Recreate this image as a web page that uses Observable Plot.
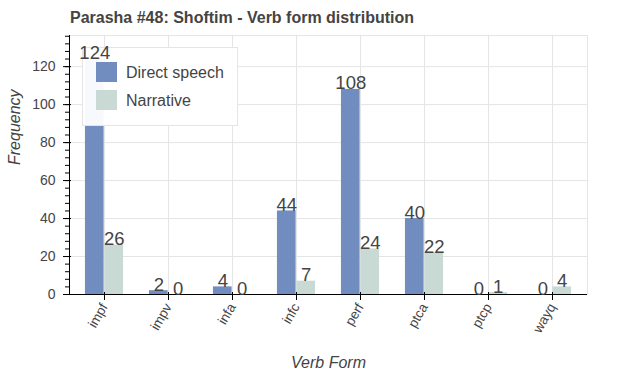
<!DOCTYPE html>
<html>
<head>
<meta charset="utf-8">
<script src="https://cdn.jsdelivr.net/npm/d3@7"></script>
<script src="https://cdn.jsdelivr.net/npm/@observablehq/plot@0.6"></script>
<style>
  html, body { margin: 0; padding: 0; background: #fff; }
  #wrap { width: 625px; height: 375px; position: relative; font-family: "Liberation Sans", Arial, Helvetica, sans-serif; }
  #title { position: absolute; left: 70px; top: 3px; height: 30px; line-height: 30px; font-weight: bold; font-size: 16px; color: #444; white-space: nowrap; }
  #chart { position: absolute; left: 0; top: 30px; }
</style>
</head>
<body>
<div id="wrap">
  <div id="title">Parasha #48: Shoftim - Verb form distribution</div>
  <div id="chart"></div>
</div>
<script>
const verbForms = ["impf", "impv", "infa", "infc", "perf", "ptca", "ptcp", "wayq"];
const directSpeech = [124, 2, 4, 44, 108, 40, 0, 0];
const narrative = [26, 0, 0, 7, 24, 22, 1, 4];
const seriesNames = ["Direct speech", "Narrative"];
const seriesColors = ["#718dbf", "#c9d9d3"];
const yMajorTicks = [0, 20, 40, 60, 80, 100, 120];
const yMinorTicks = d3.range(0, 137, 4);
const xTitle = "Verb Form";
const yTitle = "Frequency";

const rows = verbForms.map((form, i) => ({form, ds: directSpeech[i], nar: narrative[i]}));

const W = 625, H = 345, mL = 69, mR = 38, mT = 5, mB = 81;
const bw = (W - mL - mR) / verbForms.length;
const font = '"Liberation Sans", Arial, Helvetica, sans-serif';

function legendMark(index, scales, values, dims) {
  const g = d3.create("svg:g");
  g.append("rect").attr("x", 82.5).attr("y", 17.5).attr("width", 155).attr("height", 78)
    .attr("fill", "#fff").attr("fill-opacity", 0.95).attr("stroke", "#e5e5e5");
  seriesNames.forEach((name, i) => {
    g.append("rect").attr("x", 96).attr("y", 32 + i * 28).attr("width", 21).attr("height", 20)
      .attr("fill", seriesColors[i]);
    g.append("text").attr("x", 126).attr("y", 47.5 + i * 28).attr("fill", "#444")
      .attr("text-anchor", "start")
      .attr("font-size", 16).attr("font-family", font).text(name);
  });
  return g.node();
}

function axisLines(index, scales, values, dims) {
  const g = d3.create("svg:g").attr("stroke", "#000");
  const {width, height, marginLeft, marginRight, marginTop, marginBottom} = dims;
  g.append("line").attr("x1", marginLeft + 0.5).attr("x2", marginLeft + 0.5)
    .attr("y1", marginTop).attr("y2", height - marginBottom);
  g.append("line").attr("x1", marginLeft).attr("x2", width - marginRight)
    .attr("y1", height - marginBottom + 0.5).attr("y2", height - marginBottom + 0.5);
  return g.node();
}

const chart = Plot.plot({
  width: W, height: H,
  marginLeft: mL, marginRight: mR, marginTop: mT, marginBottom: mB,
  style: {fontFamily: font, color: "#444", background: "#fff", overflow: "visible"},
  x: {domain: verbForms, padding: 0, label: null},
  y: {domain: [0, 136.4], label: null},
  marks: [
    Plot.gridY(yMajorTicks, {stroke: "#e5e5e5", strokeOpacity: 1}),
    Plot.gridX(verbForms, {stroke: "#e5e5e5", strokeOpacity: 1}),
    Plot.frame({stroke: "#e5e5e5"}),
    Plot.barY(rows, {x: "form", y: "ds", fill: seriesColors[0], insetLeft: 0.2 * bw, insetRight: 0.5 * bw}),
    Plot.barY(rows, {x: "form", y: "nar", fill: seriesColors[1], insetLeft: 0.5 * bw, insetRight: 0.2 * bw}),
    Plot.axisY(yMinorTicks, {tickSize: 4, tickFormat: () => "", stroke: "#000", label: null}),
    Plot.axisY(yMajorTicks, {tickSize: 6, tickPadding: 8, fontSize: 14, stroke: "#000", fill: "#444", label: null}),
    Plot.axisY(yMajorTicks, {tickSize: 2, dx: 2, tickFormat: () => "", stroke: "#000", label: null}),
    Plot.axisX(verbForms, {tickSize: 6, tickPadding: 4, tickRotate: -60, fontSize: 13.5, stroke: "#000", fill: "#444", label: null}),
    Plot.axisX(verbForms, {tickSize: 2, dy: -2, tickFormat: () => "", stroke: "#000", label: null}),
    axisLines,
    legendMark,
    Plot.text(rows, {x: "form", y: "ds", text: "ds", dx: -0.15 * bw, lineAnchor: "bottom", fontSize: 18.5, fill: "#444"}),
    Plot.text(rows, {x: "form", y: "nar", text: "nar", dx: 0.15 * bw, lineAnchor: "bottom", fontSize: 18.5, fill: "#444"}),
    Plot.text([yTitle], {frameAnchor: "left", dx: -50, rotate: -90, lineAnchor: "bottom", fontStyle: "italic", fontSize: 16, fill: "#444"}),
    Plot.text([xTitle], {frameAnchor: "bottom", dy: 73, lineAnchor: "bottom", fontStyle: "italic", fontSize: 16, fill: "#444"})
  ]
});
document.getElementById("chart").appendChild(chart);
</script>
</body>
</html>
